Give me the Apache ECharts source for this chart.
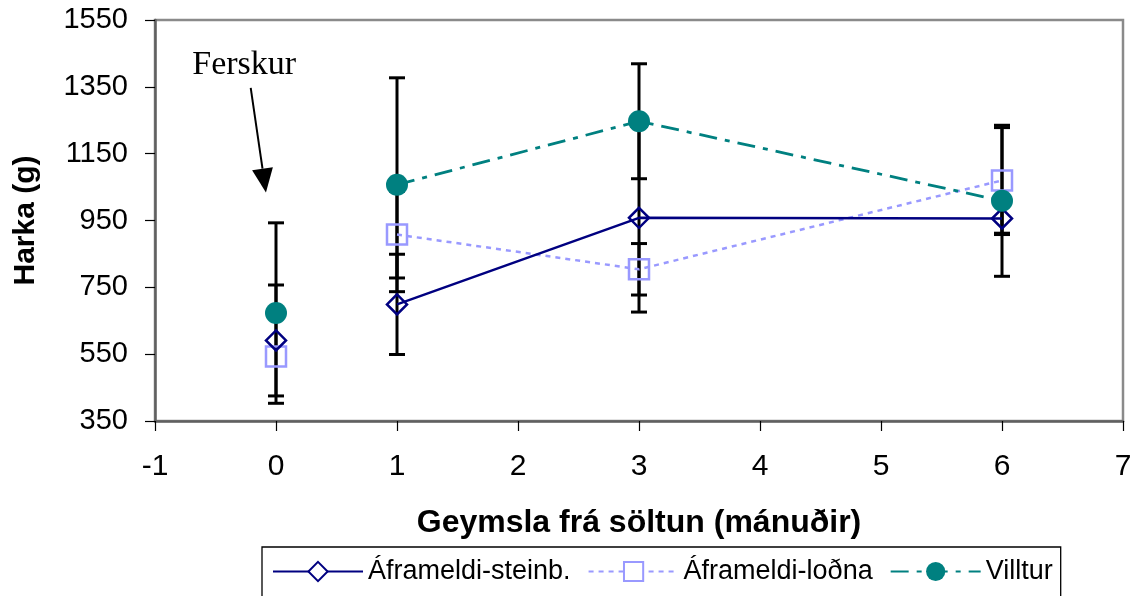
<!DOCTYPE html>
<html>
<head>
<meta charset="utf-8">
<script src="https://cdn.jsdelivr.net/npm/echarts@6/dist/echarts.min.js"></script>
<style>
html,body{margin:0;padding:0;background:#fff;}
#chart{width:1137px;height:596px;}
</style>
</head>
<body>
<div id="chart"></div>
<script>
// ---- data ----
const months = [0, 1, 3, 6];            // storage time after salting (months); 0 = fresh
const seriesNames = ['Áframeldi-steinb.', 'Áframeldi-loðna', 'Villtur'];
const steinb = [591, 699, 958, 956];
const steinbErr = [166, 150, 282, 48];
const lodna = [543, 908, 804, 1070];
const lodnaErr = [null, 130, 77, 158];
const villtur = [673, 1057, 1247, 1009];
const villturErr = [270, 320, 172, 226];
const xTicks = [-1, 0, 1, 2, 3, 4, 5, 6, 7];
const yTicks = [350, 550, 750, 950, 1150, 1350, 1550];
const xTitle = 'Geymsla frá söltun (mánuðir)';
const yTitle = 'Harka (g)';
const annotText = 'Ferskur';

// annotation anchor points in data coordinates
const annotTextAt = [-0.263, 1416];
const arrowFrom = [-0.209, 1347];
const arrowTo = [-0.083, 1034];

const SANS = '"Liberation Sans", Arial, sans-serif';
const SERIF = '"Liberation Serif", "Times New Roman", serif';

// fresh sample (month 0) is plotted as a marker only, not joined to the stored samples
function lineData(vals) {
  const out = [];
  months.forEach((m, i) => {
    out.push([m, vals[i]]);
    if (m === 0) out.push([m, '-']);
  });
  return out;
}
function errRows(vals, errs) {
  const out = [];
  vals.forEach((v, i) => { if (errs[i] != null) out.push([months[i], v - errs[i], v + errs[i]]); });
  return out;
}
const errData = [].concat(errRows(steinb, steinbErr), errRows(lodna, lodnaErr), errRows(villtur, villturErr));

const chart = echarts.init(document.getElementById('chart'), null, {renderer: 'canvas'});

const option = {
  animation: false,
  backgroundColor: '#fff',
  textStyle: {fontFamily: SANS},
  grid: {
    left: 155, right: 14, top: 20, bottom: 175,
    show: true, borderColor: '#8a8a8a', borderWidth: 2.5, backgroundColor: '#fff'
  },
  xAxis: {
    type: 'value',
    min: xTicks[0], max: xTicks[xTicks.length - 1], interval: 1,
    name: xTitle, nameLocation: 'middle', nameGap: 86,
    nameTextStyle: {fontFamily: SANS, fontWeight: 'bold', fontSize: 32, color: '#000'},
    axisLine: {show: true, onZero: false, lineStyle: {color: '#606060', width: 2.5}},
    axisTick: {show: true, inside: false, length: 10, lineStyle: {color: '#000', width: 1.2}},
    axisLabel: {fontFamily: SANS, fontSize: 30, color: '#000', margin: 31, formatter: v => String(v)},
    splitLine: {show: false}
  },
  yAxis: {
    type: 'value',
    min: yTicks[0], max: yTicks[yTicks.length - 1], interval: 200,
    name: yTitle, nameLocation: 'middle', nameGap: 114,
    nameTextStyle: {fontFamily: SANS, fontWeight: 'bold', fontSize: 30, color: '#000'},
    axisLine: {show: true, onZero: false, lineStyle: {color: '#606060', width: 2.5}},
    axisTick: {show: true, inside: false, length: 10, lineStyle: {color: '#000', width: 1.2}},
    axisLabel: {fontFamily: SANS, fontSize: 29, color: '#000', margin: 27, formatter: v => String(v)},
    splitLine: {show: false}
  },
  legend: {
    data: [
      {name: seriesNames[0], itemStyle: {color: '#fff'}},
      {name: seriesNames[1], itemStyle: {color: '#fff'}},
      {name: seriesNames[2]}
    ],
    left: 262, top: 547,
    orient: 'horizontal',
    itemWidth: 90, itemHeight: 24, itemGap: 17,
    padding: [11, 8, 30, 10],
    borderColor: '#000', borderWidth: 1.3,
    backgroundColor: '#fff',
    textStyle: {fontFamily: SANS, fontSize: 27, color: '#000'}
  },
  series: [
    {
      type: 'custom',
      name: 'err',
      z: 1,
      data: errData,
      encode: {x: 0, y: [1, 2]},
      renderItem: function (params, api) {
        const x = api.value(0);
        const lo = api.coord([x, api.value(1)]);
        const hi = api.coord([x, api.value(2)]);
        const hw = 8;
        const st = {stroke: '#000', lineWidth: 3, fill: null};
        return {
          type: 'group',
          children: [
            {type: 'line', shape: {x1: lo[0], y1: lo[1], x2: hi[0], y2: hi[1]}, style: st},
            {type: 'line', shape: {x1: lo[0] - hw, y1: lo[1], x2: lo[0] + hw, y2: lo[1]}, style: st},
            {type: 'line', shape: {x1: hi[0] - hw, y1: hi[1], x2: hi[0] + hw, y2: hi[1]}, style: st}
          ]
        };
      }
    },
    {
      type: 'line', name: seriesNames[0], z: 3,
      data: lineData(steinb), connectNulls: false,
      symbol: 'diamond', symbolSize: [20, 20],
      lineStyle: {color: '#000080', width: 2.5, type: 'solid'},
      itemStyle: {color: 'rgba(255,255,255,0)', borderColor: '#000080', borderWidth: 2.5}
    },
    {
      type: 'line', name: seriesNames[1], z: 2,
      data: lineData(lodna), connectNulls: false,
      symbol: 'rect', symbolSize: [20, 20],
      lineStyle: {color: '#9999FF', width: 2.5, type: [5, 5]},
      itemStyle: {color: 'rgba(255,255,255,0)', borderColor: '#9999FF', borderWidth: 2.5}
    },
    {
      type: 'line', name: seriesNames[2], z: 4,
      data: lineData(villtur), connectNulls: false,
      symbol: 'circle', symbolSize: 22,
      lineStyle: {color: '#008080', width: 2.8, type: [18, 8, 5, 8]},
      itemStyle: {color: '#008080', borderColor: '#008080', borderWidth: 0}
    }
  ]
};

chart.setOption(option);

// annotation: text + arrow, positioned from data coordinates
function drawAnnotation() {
  const t = chart.convertToPixel({gridIndex: 0}, annotTextAt);
  const p0 = chart.convertToPixel({gridIndex: 0}, arrowFrom);
  const p1 = chart.convertToPixel({gridIndex: 0}, arrowTo);
  const dx = p1[0] - p0[0], dy = p1[1] - p0[1];
  const len = Math.sqrt(dx * dx + dy * dy);
  const ux = dx / len, uy = dy / len;
  const nx = -uy, ny = ux;
  const headL = 24, headW = 10.5;
  const bx = p1[0] - ux * headL, by = p1[1] - uy * headL;
  chart.setOption({
    graphic: [
      {
        type: 'text', x: t[0], y: t[1], z: 10,
        style: {text: annotText, font: '34px ' + SERIF, fill: '#000', align: 'center', verticalAlign: 'middle'}
      },
      {
        type: 'line', z: 10,
        shape: {x1: p0[0], y1: p0[1], x2: bx, y2: by},
        style: {stroke: '#000', lineWidth: 2}
      },
      {
        type: 'polygon', z: 10,
        shape: {points: [[p1[0], p1[1]], [bx + nx * headW, by + ny * headW], [bx - nx * headW, by - ny * headW]]},
        style: {fill: '#000'}
      }
    ]
  });
}
drawAnnotation();
</script>
</body>
</html>
